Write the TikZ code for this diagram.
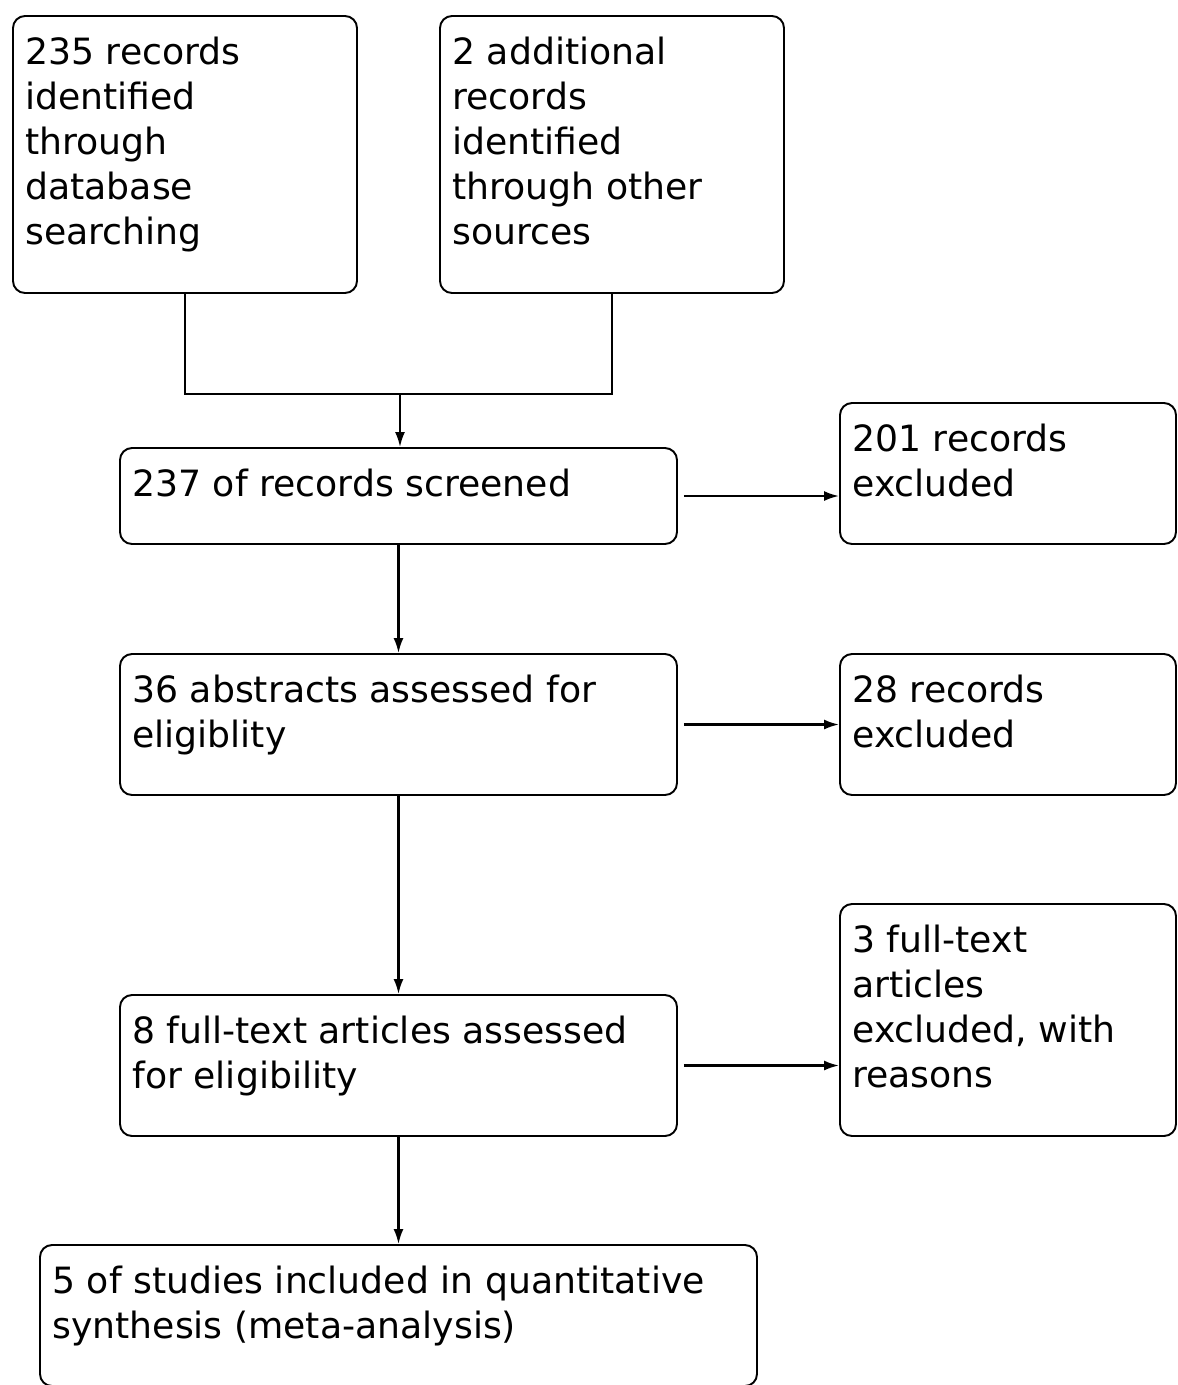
\documentclass[tikz,border=0pt]{standalone}
\usepackage{fontspec}
\setmainfont{DejaVu Sans}
\usetikzlibrary{arrows.meta}

\begin{document}
\begin{tikzpicture}[
  flowbox/.style={draw=black, line width=1.1pt, rounded corners=0.24cm, fill=white, inner sep=0pt},
  flowtext/.style={anchor=north west, align=left, inner sep=0pt, font=\fontsize{20.6}{25.6}\selectfont},
  flowarrow/.style={line width=1.2pt, -{Latex[length=0.3cm,width=0.2cm]}}
]
\useasboundingbox (0,0) rectangle (23.56,-27.70);
\node[flowbox, minimum width=6.88cm, minimum height=5.54cm] (dbrec) at (3.70,-3.09) {};
\node[flowtext] (dbrectxt) at ([xshift=0.26cm, yshift=-0.44cm]dbrec.north west) {235 records\\identified\\through\\database\\searching};
\node[flowbox, minimum width=6.88cm, minimum height=5.54cm] (othrec) at (12.24,-3.09) {};
\node[flowtext] (othrectxt) at ([xshift=0.26cm, yshift=-0.44cm]othrec.north west) {2 additional\\records\\identified\\through other\\sources};
\node[flowbox, minimum width=11.14cm, minimum height=1.92cm] (screen) at (7.97,-9.92) {};
\node[flowtext] (screentxt) at ([xshift=0.26cm, yshift=-0.44cm]screen.north west) {237 of records screened};
\node[flowbox, minimum width=6.72cm, minimum height=2.82cm] (excla) at (20.16,-9.47) {};
\node[flowtext] (exclatxt) at ([xshift=0.26cm, yshift=-0.44cm]excla.north west) {201 records\\excluded};
\node[flowbox, minimum width=11.14cm, minimum height=2.82cm] (abstr) at (7.97,-14.49) {};
\node[flowtext] (abstrtxt) at ([xshift=0.26cm, yshift=-0.44cm]abstr.north west) {36 abstracts assessed for\\eligiblity};
\node[flowbox, minimum width=6.72cm, minimum height=2.82cm] (exclb) at (20.16,-14.49) {};
\node[flowtext] (exclbtxt) at ([xshift=0.26cm, yshift=-0.44cm]exclb.north west) {28 records\\excluded};
\node[flowbox, minimum width=11.14cm, minimum height=2.82cm] (fulltx) at (7.97,-21.31) {};
\node[flowtext] (fulltxtxt) at ([xshift=0.26cm, yshift=-0.44cm]fulltx.north west) {8 full-text articles assessed\\for eligibility};
\node[flowbox, minimum width=6.72cm, minimum height=4.64cm] (exclc) at (20.16,-20.40) {};
\node[flowtext] (exclctxt) at ([xshift=0.26cm, yshift=-0.44cm]exclc.north west) {3 full-text\\articles\\excluded, with\\reasons};
\node[flowbox, minimum width=14.34cm, minimum height=2.82cm] (incl) at (7.97,-26.31) {};
\node[flowtext] (incltxt) at ([xshift=0.26cm, yshift=-0.44cm]incl.north west) {5 of studies included in quantitative\\synthesis (meta-analysis)};
\coordinate (merge) at (8.00,-7.88);
\draw[line width=1.2pt] (dbrec.south) |- (merge) -| (othrec.south);
\draw[flowarrow] (merge) -- (merge |- screen.north);
\draw[flowarrow] (screen.south) -- (abstr.north);
\draw[flowarrow] (abstr.south) -- (fulltx.north);
\draw[flowarrow] (fulltx.south) -- (incl.north);
\draw[flowarrow, shorten <=0.12cm] (screen.east) -- (screen.east -| excla.west);
\draw[flowarrow, shorten <=0.12cm] (abstr.east) -- (abstr.east -| exclb.west);
\draw[flowarrow, shorten <=0.12cm] (fulltx.east) -- (fulltx.east -| exclc.west);
\end{tikzpicture}
\end{document}
